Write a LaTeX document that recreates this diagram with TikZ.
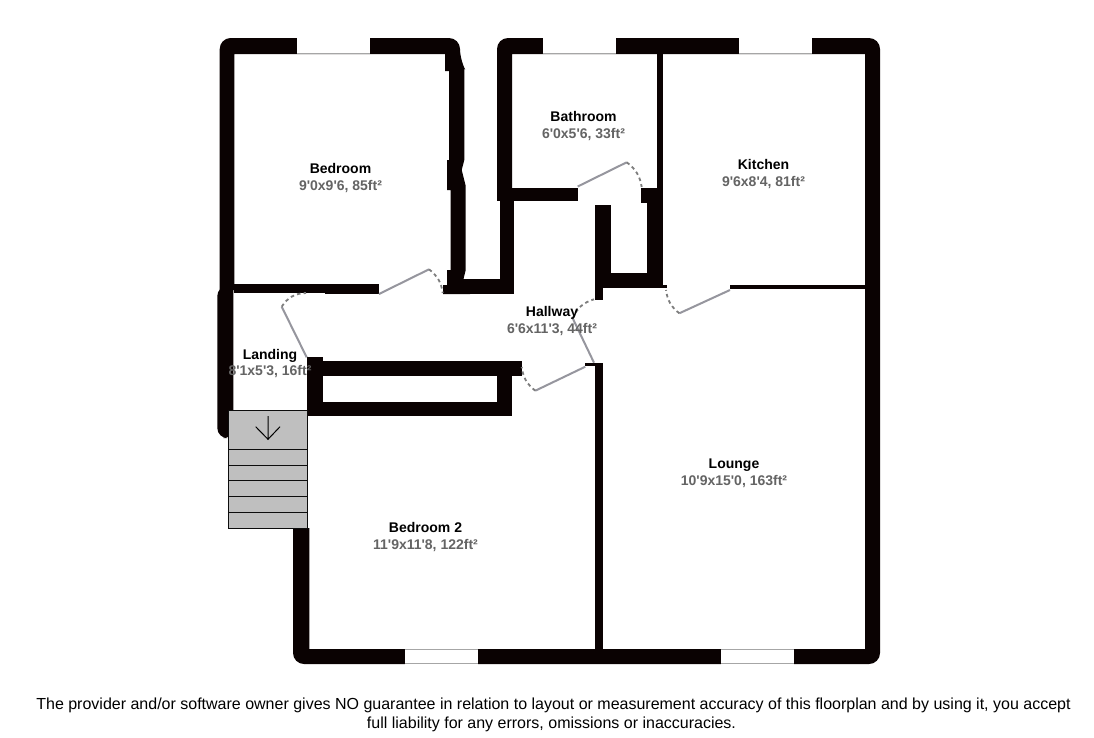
\documentclass[tikz,border=0pt]{standalone}
\usepackage{fontspec}
\newfontfamily\planfont{Liberation Sans}
\definecolor{wallc}{RGB}{10,2,2}
\definecolor{leafc}{RGB}{150,150,158}
\definecolor{arcc}{RGB}{125,125,125}
\definecolor{subc}{RGB}{100,100,100}
\definecolor{stairc}{RGB}{191,191,191}
\tikzset{
  wall/.style={fill=wallc,draw=none},
  glass/.style={fill=white,draw=none},
  glassedge/.style={draw=black!35,line width=0.9pt},
  leaf/.style={draw=leafc,line width=2pt},
  swing/.style={draw=arcc,line width=1.8pt,dash pattern=on 3.5pt off 3.2pt},
  roomname/.style={anchor=base,inner sep=0pt,font=\planfont\fontsize{14}{16}\selectfont\bfseries,text=black},
  roomsize/.style={anchor=base,inner sep=0pt,font=\planfont\fontsize{14}{16}\selectfont\bfseries,text=subc},
  disclaimer/.style={anchor=base,inner sep=0pt,font=\planfont\fontsize{16}{18}\selectfont,text=black},
  tread/.style={draw=black!95,line width=1pt,fill=stairc}
}
\begin{document}
\begin{tikzpicture}[x=1pt,y=-1pt]
\useasboundingbox[fill=white] (0,0) rectangle (1094,737);
% Outer shell: top, right and bottom
\fill[wall] (497,190) {[rounded corners=11pt] -- (497,38) -- (880,38) -- (880,664) -- (293,664) -- (293,640)} -- (293,528) -- (309.3,528) -- (309.3,649) -- (865,649) -- (865,54) -- (512,54) -- (512,190) -- cycle;
% Bedroom shell with right wall
\fill[wall] (219.7,290) {[rounded corners=11pt] -- (219.7,38) -- (460,38) -- (460,60)} -- (464.3,68) -- (464.3,160) -- (461.7,170) -- (465.7,186) -- (465.7,270) -- (463.5,279) -- (470,279) -- (470,294) -- (443,294) -- (443,285) -- (447,285) -- (447,270) -- (450.7,270) -- (450.7,190) -- (447,190) -- (447,160) -- (449,160) -- (449,71) -- (445,71) -- (445,54) -- (234.3,54) -- (234.3,290) -- cycle;
% Short pieces
\fill[wall] (460,279) rectangle (514,294);
\fill[wall] (499.5,190) rectangle (514,294);
\fill[wall] (497,188) rectangle (577.7,201);
\fill[wall] (234,284) rectangle (325,293);
\fill[wall] (325,284) rectangle (379,294);
\fill[wall] (233.3,286) {[rounded corners=10pt] -- (217.3,286) -- (217.3,438) -- (233.3,438)} -- cycle;
% Kitchen / bathroom partitions
\fill[wall] (656.7,50) rectangle (663,203);
\fill[wall] (641,188) rectangle (657,203);
\fill[wall] (647.3,203) rectangle (663,288.3);
\fill[wall] (610,272.7) rectangle (663,288.3);
\fill[wall] (595.3,205.3) rectangle (610.7,288.3);
\fill[wall] (595.3,288) rectangle (603.3,300);
\fill[wall] (663,285) rectangle (666.7,288.3);
\fill[wall] (730,285) rectangle (866,288.5);
% Lounge partition
\fill[wall] (595.3,363.3) rectangle (603.3,650);
\fill[wall] (585,363.3) rectangle (596,366);
% Cupboard
\fill[wall] (307.3,356.7) rectangle (323.3,416);
\fill[wall] (323,360.7) rectangle (521.7,375.7);
\fill[wall] (496.7,375) rectangle (512.3,416);
\fill[wall] (307.3,401.7) rectangle (512.3,416);
% Windows
\fill[glass] (297,37) rectangle (370.3,53.5);
\draw[glassedge] (297,53.5) -- (370.3,53.5);
\fill[glass] (542.7,37) rectangle (616,53.5);
\draw[glassedge] (542.7,53.5) -- (616,53.5);
\fill[glass] (738.7,37) rectangle (812.3,53.5);
\draw[glassedge] (738.7,53.5) -- (812.3,53.5);
\fill[glass] (404.5,649) rectangle (478,665);
\draw[glassedge] (404.5,649) -- (478,649);
\draw[glassedge] (404.5,663.5) -- (478,663.5);
\fill[glass] (721,649) rectangle (794.4,665);
\draw[glassedge] (721,649) -- (794.4,649);
\draw[glassedge] (721,663.5) -- (794.4,663.5);
% Stairs
\draw[tread] (228.7,410) rectangle (307,449.3);
\draw[tread] (228.7,449.3) rectangle (307,465);
\draw[tread] (228.7,465) rectangle (307,480.7);
\draw[tread] (228.7,480.7) rectangle (307,496.7);
\draw[tread] (228.7,496.7) rectangle (307,512.7);
\draw[tread] (228.7,512.7) rectangle (307,528.3);
\draw[black,line width=1pt] (268,416) -- (268,439.3) (255.7,426.7) -- (268,439.3) -- (280,426.7);
% Doors
\draw[leaf] (379,294) -- (429,269.3);
\draw[swing] (429,269.3) to[bend left=22] (442.7,293);
\draw[leaf] (306.7,357.3) -- (281.7,306.7);
\draw[swing] (281.7,306.7) to[bend left=28] (306,293);
\draw[leaf] (577.7,186.5) -- (626.7,162.3);
\draw[swing] (626.7,162.3) to[bend left=22] (641.7,187);
\draw[leaf] (594,362.7) -- (572.7,318.3);
\draw[swing] (572.7,318.3) to[bend left=25] (594,299.3);
\draw[leaf] (585.3,366.7) -- (535.3,390.7);
\draw[swing] (535.3,390.7) to[bend left=22] (521.7,367);
\draw[leaf] (730,290) -- (679.3,313.3);
\draw[swing] (679.3,313.3) to[bend left=22] (666,290);
% Labels
\node[roomname] (n1) at (340.5,173) {Bedroom};
\node[roomsize] (s1) at (340.5,190) {9'0x9'6, 85ft²};
\node[roomname] (n2) at (583.5,121) {Bathroom};
\node[roomsize] (s2) at (583.5,138) {6'0x5'6, 33ft²};
\node[roomname] (n3) at (763.5,169) {Kitchen};
\node[roomsize] (s3) at (763.5,186) {9'6x8'4, 81ft²};
\node[roomname] (n4) at (552,316) {Hallway};
\node[roomsize] (s4) at (552,333) {6'6x11'3, 44ft²};
\node[roomname] (n5) at (270,359) {Landing};
\node[roomsize] (s5) at (270,375) {8'1x5'3, 16ft²};
\node[roomname] (n6) at (425.5,532) {Bedroom 2};
\node[roomsize] (s6) at (425.5,549) {11'9x11'8, 122ft²};
\node[roomname] (n7) at (734,468) {Lounge};
\node[roomsize] (s7) at (734,485) {10'9x15'0, 163ft²};
\node[disclaimer] (d1) at (553.5,709.5) {The provider and/or software owner gives NO guarantee in relation to layout or measurement accuracy of this floorplan and by using it, you accept};
\node[disclaimer] (d2) at (551.5,728.5) {full liability for any errors, omissions or inaccuracies.};
\end{tikzpicture}
\end{document}
